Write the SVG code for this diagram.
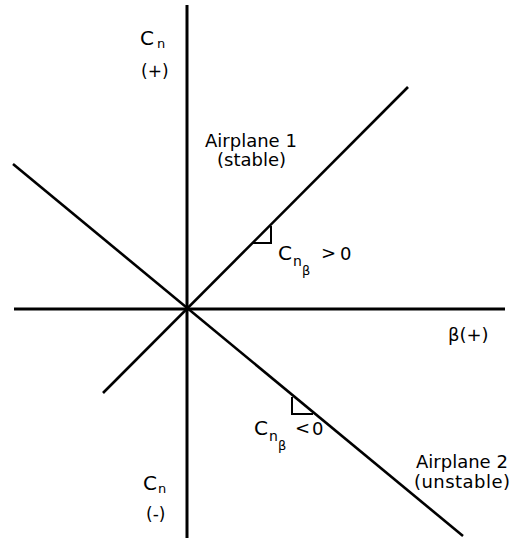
<svg xmlns="http://www.w3.org/2000/svg" width="516" height="538" viewBox="0 0 516 538">
<style>
.ax{stroke:#000;stroke-width:3;fill:none}
.ln{stroke:#000;stroke-width:2.6;fill:none}
.tri{stroke:#000;stroke-width:2;fill:none}
text{font-family:"DejaVu Sans","Liberation Sans",Arial,sans-serif;fill:#000}
.t{font-size:18px}
.p{font-size:17px}
.c{font-size:20px}
.s{font-size:13px}
.s2{font-size:14px}
.b{font-size:13px}
</style>
<rect width="516" height="538" fill="#fff"/>
<g id="connectors">
<line class="ax" x1="187" y1="5" x2="187" y2="538"/>
<line class="ax" x1="14" y1="309" x2="505" y2="309"/>
<line class="ln" x1="103" y1="393" x2="408" y2="87"/>
<line class="ln" x1="13" y1="164" x2="463" y2="536"/>
<polyline class="tri" points="253,243 271,243 271,226"/>
<polyline class="tri" points="292,397 292,414 313,414"/>
</g>
<g id="cn-pos">
<text class="c" x="140" y="45">C</text><text class="s" x="157" y="48">n</text>
<text class="p" x="141" y="77">(+)</text>
</g>
<g id="cn-neg">
<text class="c" x="143" y="490">C</text><text class="s" x="158" y="493">n</text>
<text class="p" x="146" y="520">(-)</text>
</g>
<g id="airplane1">
<text class="t" x="205" y="147">Airplane 1</text>
<text class="t" x="217" y="166">(stable)</text>
</g>
<g id="cnb-pos">
<text class="c" x="278" y="260">C</text><text class="s2" x="293" y="266">n</text><text class="b" x="302" y="275">β</text>
<text class="t" x="321" y="259">&gt;</text><text class="t" x="340" y="260">0</text>
</g>
<g id="cnb-neg">
<text class="c" x="254" y="435">C</text><text class="s2" x="269" y="441">n</text><text class="b" x="278" y="450">β</text>
<text class="t" x="295" y="434">&lt;</text><text class="t" x="312" y="435">0</text>
</g>
<g id="airplane2">
<text class="t" x="416" y="468">Airplane 2</text>
<text class="t" x="414" y="488" textLength="96">(unstable)</text>
</g>
<g id="beta">
<text class="t" x="448" y="341">β(+)</text>
</g>
</svg>
